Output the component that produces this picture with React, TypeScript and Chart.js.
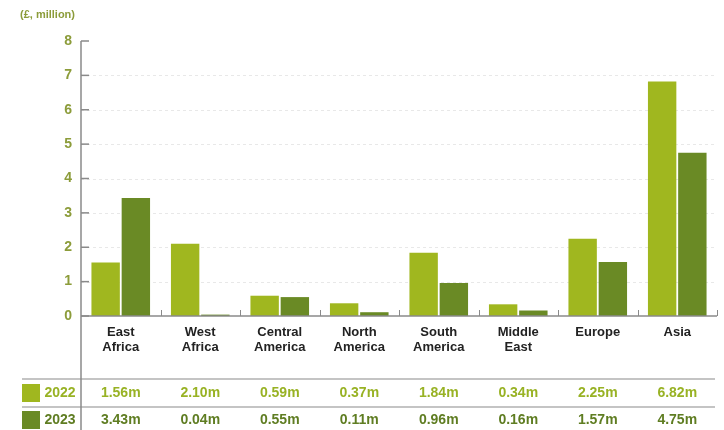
import React, { useEffect, useRef } from "react";
import { Chart, registerables } from "chart.js";

Chart.register(...registerables);

const categories: string[][] = [
  ["East", "Africa"],
  ["West", "Africa"],
  ["Central", "America"],
  ["North", "America"],
  ["South", "America"],
  ["Middle", "East"],
  ["Europe"],
  ["Asia"],
];
const seriesLabels = ["2022", "2023"];
const values2022 = [1.56, 2.1, 0.59, 0.37, 1.84, 0.34, 2.25, 6.82];
const values2023 = [3.43, 0.04, 0.55, 0.11, 0.96, 0.16, 1.57, 4.75];
const yTickValues = [0, 1, 2, 3, 4, 5, 6, 7, 8];
const axisTitle = "(£, million)";

const FONT = "'Liberation Sans Narrow', 'Liberation Sans', Arial, sans-serif";
const C2022 = "#a0b71f";
const C2023 = "#6a8a25";
const TXT2022 = "#98b224";
const TXT2023 = "#5f7d22";
const OLIVE = "#8c9c3a";
const AXIS = "#8a8a8a";

const decorPlugin = {
  id: "decor",
  beforeDatasetsDraw(chart: any) {
    const { ctx, chartArea, scales } = chart;
    const y = scales.y;
    ctx.save();
    ctx.strokeStyle = "#e8e8e8";
    ctx.lineWidth = 1;
    ctx.setLineDash([3, 3]);
    yTickValues.forEach((v) => {
      if (v === 0 || v === 8) return;
      const py = Math.round(y.getPixelForValue(v)) + 0.5;
      ctx.beginPath();
      ctx.moveTo(chartArea.left, py);
      ctx.lineTo(chartArea.right, py);
      ctx.stroke();
    });
    ctx.restore();
  },
  afterDraw(chart: any) {
    const { ctx, chartArea, scales } = chart;
    const x = scales.x;
    const y = scales.y;
    const n = categories.length;
    const catW = (chartArea.right - chartArea.left) / n;
    ctx.save();
    ctx.setLineDash([]);
    ctx.strokeStyle = AXIS;
    ctx.lineWidth = 1.5;
    // y axis line, through table
    ctx.beginPath();
    ctx.moveTo(chartArea.left, y.getPixelForValue(8));
    ctx.lineTo(chartArea.left, 430);
    ctx.stroke();
    // y ticks (inside)
    yTickValues.forEach((v) => {
      const py = y.getPixelForValue(v);
      ctx.beginPath();
      ctx.moveTo(chartArea.left, py);
      ctx.lineTo(chartArea.left + 8, py);
      ctx.stroke();
    });
    // x baseline
    const by = y.getPixelForValue(0);
    ctx.beginPath();
    ctx.moveTo(chartArea.left, by);
    ctx.lineTo(chartArea.right, by);
    ctx.stroke();
    // category boundary ticks
    ctx.lineWidth = 1;
    for (let k = 1; k <= n; k++) {
      const px = Math.round(chartArea.left + k * catW) + 0.5;
      ctx.beginPath();
      ctx.moveTo(px, by);
      ctx.lineTo(px, by - 6);
      ctx.stroke();
    }
    // title
    ctx.fillStyle = OLIVE;
    ctx.font = `bold 11px ${FONT}`;
    ctx.textAlign = "left";
    ctx.textBaseline = "middle";
    ctx.fillText(axisTitle, 20, 15);
    // table lines
    ctx.strokeStyle = AXIS;
    ctx.lineWidth = 1.2;
    [379, 407].forEach((ly) => {
      ctx.beginPath();
      ctx.moveTo(22, ly);
      ctx.lineTo(chartArea.right - 2, ly);
      ctx.stroke();
    });
    // legend squares and row labels
    const rows = [
      { label: seriesLabels[0], vals: values2022, sq: C2022, txt: TXT2022, y: 393 },
      { label: seriesLabels[1], vals: values2023, sq: C2023, txt: TXT2023, y: 420 },
    ];
    rows.forEach((r) => {
      ctx.fillStyle = r.sq;
      ctx.fillRect(22, r.y - 9, 18, 18);
      ctx.fillStyle = r.txt;
      ctx.font = `bold 14px ${FONT}`;
      ctx.textAlign = "center";
      ctx.fillText(r.label, 60, r.y);
      r.vals.forEach((v, i) => {
        ctx.fillText(v.toFixed(2) + "m", x.getPixelForValue(i), r.y);
      });
    });
    ctx.restore();
  },
};

export default function App() {
  const ref = useRef<HTMLCanvasElement | null>(null);
  useEffect(() => {
    if (!ref.current) return;
    const chart = new Chart(ref.current, {
      type: "bar",
      data: {
        labels: categories,
        datasets: [
          {
            label: seriesLabels[0],
            data: values2022,
            backgroundColor: C2022,
            categoryPercentage: 0.76,
            barPercentage: 0.94,
          },
          {
            label: seriesLabels[1],
            data: values2023,
            backgroundColor: C2023,
            categoryPercentage: 0.76,
            barPercentage: 0.94,
          },
        ],
      },
      options: {
        responsive: false,
        animation: false,
        layout: { padding: { top: 41, right: 7, left: 0, bottom: 0 } },
        plugins: { legend: { display: false }, tooltip: { enabled: false } },
        scales: {
          x: {
            grid: { display: false, drawTicks: false },
            border: { display: false },
            ticks: {
              color: "#222222",
              font: { family: FONT, size: 13, weight: "bold", lineHeight: 1.15 },
              padding: 9,
              autoSkip: false,
              maxRotation: 0,
            },
            afterFit: (s: any) => {
              s.height = 114;
            },
          },
          y: {
            min: 0,
            max: 8,
            grid: { display: false, drawTicks: false },
            border: { display: false },
            ticks: {
              stepSize: 1,
              color: OLIVE,
              font: { family: FONT, size: 14, weight: "bold" },
              padding: 9,
            },
            afterFit: (s: any) => {
              s.width = 81;
            },
          },
        },
      },
      plugins: [decorPlugin],
    });
    return () => chart.destroy();
  }, []);
  return (
    <div style={{ position: "fixed", left: 0, top: 0, width: 724, height: 430, background: "#fff" }}>
      <canvas ref={ref} width={724} height={430} />
    </div>
  );
}
